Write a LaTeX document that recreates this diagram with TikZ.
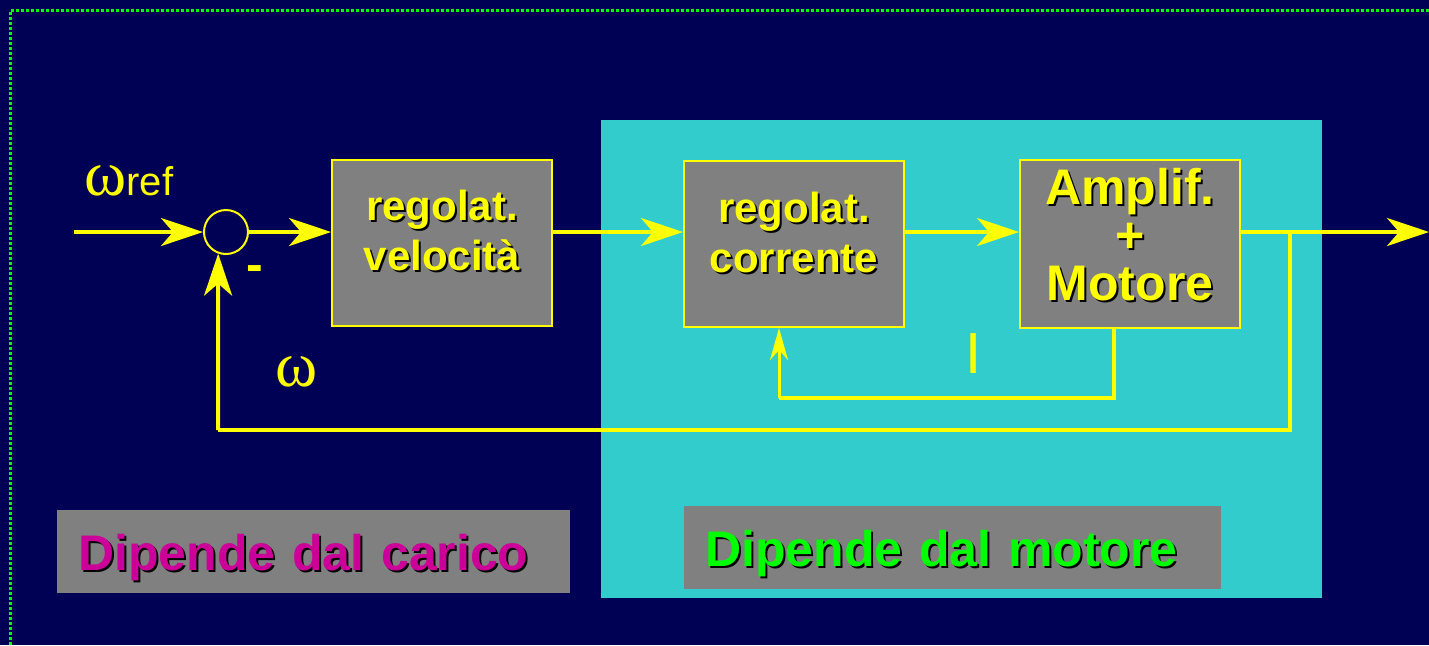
\documentclass[tikz,border=0pt]{standalone}
\usepackage{fontspec}
\setmainfont{Liberation Sans}
\newfontfamily\greekfont{Liberation Serif}
\usepackage{xcolor}
\usetikzlibrary{arrows.meta, positioning, calc}

\definecolor{navy}{RGB}{0,0,85}
\definecolor{tealbg}{RGB}{51,204,204}
\definecolor{boxgray}{RGB}{128,128,128}
\definecolor{sigyellow}{RGB}{255,255,0}
\definecolor{labmagenta}{RGB}{204,0,153}
\definecolor{labgreen}{RGB}{0,255,0}

% text with a black drop shadow
\newcommand{\shad}[2]{\leavevmode\rlap{\hspace{1pt}\raisebox{-1pt}{\color{black}#2}}{\color{#1}#2}}

\begin{document}
\begin{tikzpicture}[x=0.5pt, y=-0.5pt,
    block/.style={draw=sigyellow, line width=1pt, fill=boxgray, minimum width=110pt, minimum height=83pt, inner sep=0pt},
    blocktext/.style={align=center, inner sep=0pt, font=\bfseries\fontsize{21}{25}\selectfont},
    tagbox/.style={fill=boxgray, inner xsep=10.5pt, inner ysep=0pt, align=left, anchor=north west, text depth=0pt, font=\bfseries\fontsize{25}{30}\selectfont},
    sig/.style={draw=sigyellow, line width=2pt, -{Stealth[length=21pt, width=14pt, inset=6pt]}},
    fbline/.style={draw=sigyellow, line width=1.8pt},
    smallarr/.style={draw=sigyellow, line width=1.5pt, -{Stealth[length=16pt, width=9pt, inset=5pt]}}]
  % Background
  \useasboundingbox (0,0) rectangle (1429,645);
  \fill[navy] (0,0) rectangle (1429,645);
  \draw[labgreen, line width=1.5pt, dash pattern=on 1.5pt off 1pt] (10.5,645) -- (10.5,10.5) -- (1429,10.5);
  \fill[tealbg] (601,120) rectangle (1322,598);

  % Blocks
  \node[draw=sigyellow, line width=1pt, circle, minimum size=22pt, inner sep=0pt] (sum) at (226,232) {};
  \node[block, label={[blocktext, yshift=6pt]center:{\shad{sigyellow}{regolat.}\\\shad{sigyellow}{velocità}}}] (vel) at (442,243) {};
  \node[block, label={[blocktext, yshift=5.5pt]center:{\shad{sigyellow}{regolat.}\\\shad{sigyellow}{corrente}}}] (cor) at (794,244) {};
  \node[block, minimum height=84pt, label={[blocktext, yshift=4pt, font=\bfseries\fontsize{25}{24}\selectfont]center:{\shad{sigyellow}{Amplif.}\\\shad{sigyellow}{+}\\\shad{sigyellow}{Motore}}}] (amp) at (1130,244) {};

  % Labels
  \node[anchor=base west, inner sep=0pt, text=sigyellow] (wref) at (84,195) {{\greekfont\fontsize{32}{32}\selectfont ω}\fontsize{20}{20}\selectfont ref};
  \node[inner sep=0pt, text=sigyellow, font=\bfseries\fontsize{25}{25}\selectfont] (minus) at (255,274) {-};
  \node[inner sep=0pt, text=sigyellow, font=\greekfont\fontsize{32}{32}\selectfont] (wlab) at (297,372) {ω};
  \node[inner sep=0pt, text=sigyellow, font=\fontsize{29}{29}\selectfont] (ilab) at (974,354) {I};
  \node[tagbox, text width=235.5pt, minimum height=41.5pt] (carico) at (57,510) {\shad{labmagenta}{Dipende dal carico}};
  \node[tagbox, text width=247.5pt, minimum height=41.5pt] (motore) at (684,506) {\shad{labgreen}{Dipende dal motore}};

  % Forward path
  \coordinate (in) at (74,232);
  \coordinate (out) at (1429,232);
  \coordinate (br) at (1290,232);
  \draw[sig] (in) -- (sum.west);
  \draw[sig] (sum.east) -- (sum.east -| vel.west);
  \draw[sig] (vel.east |- sum) -- (cor.west |- sum);
  \draw[sig] (cor.east |- sum) -- (amp.west |- sum);
  \draw[sig] (amp.east |- sum) -- (out);

  % Speed feedback
  \coordinate (fbl) at (218,430);
  \draw[fbline] (br) |- (fbl);
  \draw[sig] (fbl) -- (sum.-110);

  % Current feedback
  \coordinate (ia) at (1114,398);
  \coordinate (ib) at (779,398);
  \draw[fbline] (amp.south -| ia) -- (ia) -- (ib);
  \draw[smallarr] (ib) -- (cor.south -| ib);
\end{tikzpicture}
\end{document}
